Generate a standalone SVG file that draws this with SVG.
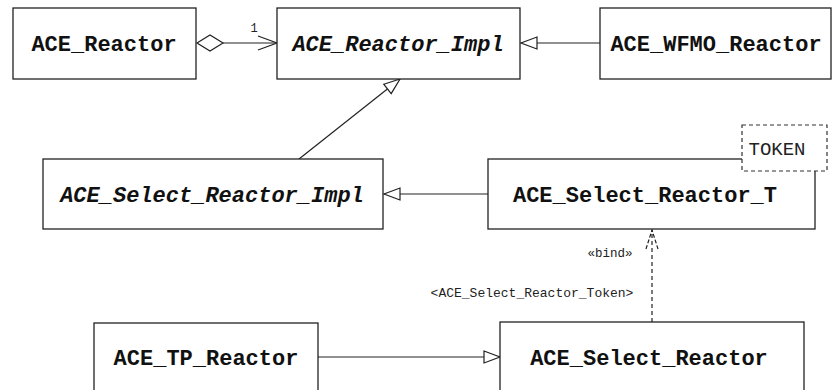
<svg xmlns="http://www.w3.org/2000/svg" width="833" height="390" viewBox="0 0 833 390">
<style>
.box{fill:#fff;stroke:#222;stroke-width:1.3}
.t{font-family:"Liberation Mono","Courier New",monospace;font-weight:bold;font-size:22px;fill:#111;text-anchor:middle}
.it{font-style:italic}
.ln{fill:none;stroke:#222;stroke-width:1.2}
.tri{fill:#fff;stroke:#222;stroke-width:1.2}
.small{font-family:"Liberation Mono","Courier New",monospace;fill:#222;text-anchor:middle}
</style>
<defs>
<marker id="gen" markerWidth="20" markerHeight="16" refX="17" refY="7" orient="auto" markerUnits="userSpaceOnUse">
<path d="M1,1 L17,7 L1,13 Z" class="tri"/>
</marker>
<marker id="open" markerWidth="22" markerHeight="18" refX="20" refY="8" orient="auto" markerUnits="userSpaceOnUse">
<path d="M1,1 L20,8 L1,15" class="ln"/>
</marker>
<marker id="openn" markerWidth="22" markerHeight="14" refX="20" refY="7" orient="auto" markerUnits="userSpaceOnUse">
<path d="M1,1 L20,7 L1,13" class="ln" stroke-dasharray="4,2"/>
</marker>
</defs>
<rect width="833" height="390" fill="#fff"/>
<g id="connectors">
<path d="M197,43 L210,35 L223,43 L210,51 Z" class="tri"/>
<path d="M223,43 L277,43" class="ln" marker-end="url(#open)"/>
<text x="254" y="32" class="small" font-size="12">1</text>
<path d="M600,43 L521,43" class="ln" marker-end="url(#gen)"/>
<path d="M299,159 L400,79" class="ln" marker-end="url(#gen)"/>
<path d="M488,194 L384,194" class="ln" marker-end="url(#gen)"/>
<path d="M318,357 L500,357" class="ln" marker-end="url(#gen)"/>
<path d="M652,322 L652,230" class="ln" stroke-dasharray="4,3" marker-end="url(#openn)"/>
<text x="610" y="257" class="small" font-size="12.5">«bind»</text>
<text x="532" y="297" class="small" font-size="13">&lt;ACE_Select_Reactor_Token&gt;</text>
</g>
<g id="ACE_Reactor">
<rect x="13" y="8" width="183" height="71" class="box"/>
<text x="104" y="51" class="t">ACE_Reactor</text>
</g>
<g id="ACE_Reactor_Impl">
<rect x="277" y="8" width="243" height="71" class="box"/>
<text x="398" y="51" class="t it">ACE_Reactor_Impl</text>
</g>
<g id="ACE_WFMO_Reactor">
<rect x="600" y="8" width="231" height="71" class="box"/>
<text x="716" y="51" class="t">ACE_WFMO_Reactor</text>
</g>
<g id="ACE_Select_Reactor_Impl">
<rect x="43" y="159" width="340" height="70" class="box"/>
<text x="212" y="202" class="t it">ACE_Select_Reactor_Impl</text>
</g>
<g id="ACE_Select_Reactor_T">
<rect x="488" y="159" width="327" height="70" class="box"/>
<text x="645" y="202" class="t">ACE_Select_Reactor_T</text>
<rect x="742" y="125" width="85" height="46" fill="#fff" stroke="#333" stroke-width="1.2" stroke-dasharray="4,3"/>
<text x="777" y="155" class="small" font-size="19">TOKEN</text>
</g>
<g id="ACE_TP_Reactor">
<rect x="94" y="323" width="224" height="80" class="box"/>
<text x="206" y="365" class="t">ACE_TP_Reactor</text>
</g>
<g id="ACE_Select_Reactor">
<rect x="500" y="322" width="304" height="80" class="box"/>
<text x="649" y="365" class="t">ACE_Select_Reactor</text>
</g>
</svg>
